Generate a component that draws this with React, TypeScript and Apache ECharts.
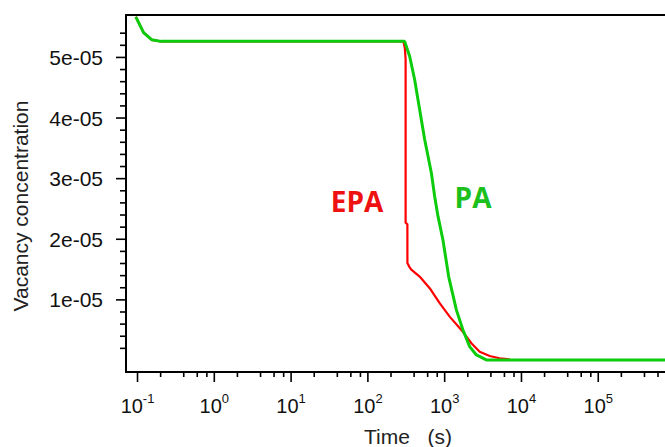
import React, { useEffect, useRef } from 'react';
import * as echarts from 'echarts';

// EPA (red) curve
const epaTime = [0.095, 0.12, 0.154, 0.2, 290, 303, 310, 310, 327, 327, 345, 368, 472, 638, 861, 1161, 1649, 2227, 2857, 3855, 5200, 7015];
const epaConc = [5.67e-5, 5.41e-5, 5.29e-5, 5.265e-5, 5.265e-5, 5.15e-5, 4.97e-5, 2.27e-5, 2.25e-5, 1.61e-5, 1.55e-5, 1.5e-5, 1.385e-5, 1.193e-5, 0.945e-5, 0.724e-5, 0.504e-5, 0.284e-5, 0.145e-5, 0.074e-5, 0.036e-5, 0.02e-5];

// PA (green) curve
const paTime = [0.095, 0.12, 0.154, 0.2, 301, 350, 406, 472, 549, 671, 741, 819, 950, 1127, 1420, 1730, 2116, 2588, 3491, 740000];
const paConc = [5.67e-5, 5.41e-5, 5.29e-5, 5.265e-5, 5.265e-5, 5.02e-5, 4.636e-5, 4.14e-5, 3.645e-5, 3.094e-5, 2.707e-5, 2.377e-5, 1.988e-5, 1.385e-5, 0.835e-5, 0.504e-5, 0.228e-5, 0.091e-5, 0.01e-5, 0.01e-5];

// axis ticks
const xMajorTicks = [0.1, 1, 10, 100, 1000, 10000, 100000];
const xMinorTicks = [0.2, 0.4, 0.6, 0.8, 2, 4, 6, 8, 20, 40, 60, 80, 200, 400, 600, 800, 2000, 4000, 6000, 8000, 20000, 40000, 60000, 80000, 200000, 400000, 600000];
const yMajorTicks = [1e-5, 2e-5, 3e-5, 4e-5, 5e-5];
const yMinorTicks = [0.2e-5, 0.4e-5, 0.6e-5, 0.8e-5, 1.2e-5, 1.4e-5, 1.6e-5, 1.8e-5, 2.2e-5, 2.4e-5, 2.6e-5, 2.8e-5, 3.2e-5, 3.4e-5, 3.6e-5, 3.8e-5, 4.2e-5, 4.4e-5, 4.6e-5, 4.8e-5, 5.2e-5, 5.4e-5];

const X_MIN = 0.0708;
const X_MAX = 7.4e5;
const Y_MIN = -1.9e-6;
const Y_MAX = 5.7e-5;

const FONT = 'Liberation Sans, Arial, sans-serif';

export default function App() {
  const ref = useRef<HTMLDivElement>(null);
  useEffect(() => {
    if (!ref.current) return;
    const chart = echarts.init(ref.current, undefined, { renderer: 'svg' });

    const xTickData = [
      ...xMajorTicks.map((t) => [t, Y_MIN, 1]),
      ...xMinorTicks.map((t) => [t, Y_MIN, 0]),
    ];
    const yTickData = [
      ...yMajorTicks.map((v) => [X_MIN, v, 1]),
      ...yMinorTicks.map((v) => [X_MIN, v, 0]),
    ];

    const option: any = {
      animation: false,
      backgroundColor: '#ffffff',
      textStyle: { fontFamily: FONT },
      grid: {
        left: 126,
        right: 0,
        top: 15,
        bottom: 75,
        containLabel: false,
        outerBoundsMode: 'none',
      },
      xAxis: [
        {
          type: 'log',
          logBase: 10,
          min: X_MIN,
          max: X_MAX,
          position: 'bottom',
          axisLine: { show: true, onZero: false, lineStyle: { color: '#000', width: 2 } },
          axisTick: { show: false },
          minorTick: { show: false },
          splitLine: { show: false },
          axisLabel: {
            margin: 20,
            color: '#111',
            formatter: (v: number) => {
              const e = Math.log10(v);
              const r = Math.round(e);
              if (Math.abs(e - r) > 1e-6) return '';
              return `{b|10}{s|${r}}`;
            },
            rich: {
              b: { fontSize: 20, fontFamily: FONT, color: '#111', lineHeight: 24, verticalAlign: 'bottom' },
              s: { fontSize: 13, fontFamily: FONT, color: '#111', lineHeight: 14, verticalAlign: 'top' },
            },
          },
        },
        {
          type: 'log',
          logBase: 10,
          min: X_MIN,
          max: X_MAX,
          position: 'top',
          axisLine: { show: true, onZero: false, lineStyle: { color: '#000', width: 2 } },
          axisTick: { show: false },
          axisLabel: { show: false },
          splitLine: { show: false },
        },
      ],
      yAxis: {
        type: 'value',
        min: Y_MIN,
        max: Y_MAX,
        axisLine: { show: true, onZero: false, lineStyle: { color: '#000', width: 2 } },
        axisTick: { show: false },
        splitLine: { show: false },
        axisLabel: {
          margin: 23,
          fontSize: 21,
          fontFamily: FONT,
          color: '#111',
          formatter: (v: number) => {
            const k = Math.round(v / 1e-5);
            if (k <= 0 || Math.abs(v - k * 1e-5) > 1e-9) return '';
            return `${k}e-05`;
          },
        },
      },
      series: [
        {
          name: 'EPA',
          type: 'line',
          data: epaTime.map((t, i) => [t, epaConc[i]]),
          showSymbol: false,
          symbol: 'none',
          lineStyle: { color: '#ff0000', width: 2.2 },
          z: 2,
        },
        {
          name: 'PA',
          type: 'line',
          data: paTime.map((t, i) => [t, paConc[i]]),
          showSymbol: false,
          symbol: 'none',
          lineStyle: { color: '#0ccc0c', width: 3 },
          z: 3,
        },
        {
          type: 'custom',
          silent: true,
          clip: false,
          data: xTickData,
          renderItem: (params: any, api: any) => {
            const p = api.coord([api.value(0), api.value(1)]);
            const len = api.value(2) === 1 ? 10 : 5;
            return {
              type: 'line',
              shape: { x1: p[0], y1: p[1], x2: p[0], y2: p[1] + len },
              style: { stroke: '#000', lineWidth: 1.6 },
            };
          },
          z: 5,
        },
        {
          type: 'custom',
          silent: true,
          clip: false,
          data: yTickData,
          renderItem: (params: any, api: any) => {
            const p = api.coord([api.value(0), api.value(1)]);
            const len = api.value(2) === 1 ? 10 : 6;
            return {
              type: 'line',
              shape: { x1: p[0] - len, y1: p[1], x2: p[0], y2: p[1] },
              style: { stroke: '#000', lineWidth: 1.6 },
            };
          },
          z: 5,
        },
      ],
      graphic: [
        {
          type: 'text',
          x: 20,
          y: 206,
          rotation: Math.PI / 2,
          style: {
            text: 'Vacancy concentration',
            fontSize: 21,
            fontFamily: FONT,
            fill: '#222',
            textAlign: 'center',
            textVerticalAlign: 'middle',
          },
        },
        {
          type: 'text',
          x: 408,
          y: 436,
          style: {
            text: 'Time   (s)',
            fontSize: 21,
            fontFamily: FONT,
            fill: '#222',
            textAlign: 'center',
            textVerticalAlign: 'middle',
          },
        },
        {
          type: 'text',
          x: 357,
          y: 201,
          style: {
            text: 'EPA',
            fontSize: 28,
            fontWeight: 'bold',
            fontFamily: 'Open Sans, sans-serif',
            fill: '#ee1111',
            textAlign: 'center',
            textVerticalAlign: 'middle',
          },
        },
        {
          type: 'text',
          x: 473,
          y: 197,
          style: {
            text: 'PA',
            fontSize: 28,
            fontWeight: 'bold',
            fontFamily: 'Open Sans, sans-serif',
            fill: '#1cc01c',
            textAlign: 'center',
            textVerticalAlign: 'middle',
          },
        },
      ],
    };

    chart.setOption(option);
    return () => chart.dispose();
  }, []);

  return (
    <div
      ref={ref}
      style={{ position: 'fixed', left: 0, top: 0, width: 665, height: 447, background: '#fff' }}
    />
  );
}
